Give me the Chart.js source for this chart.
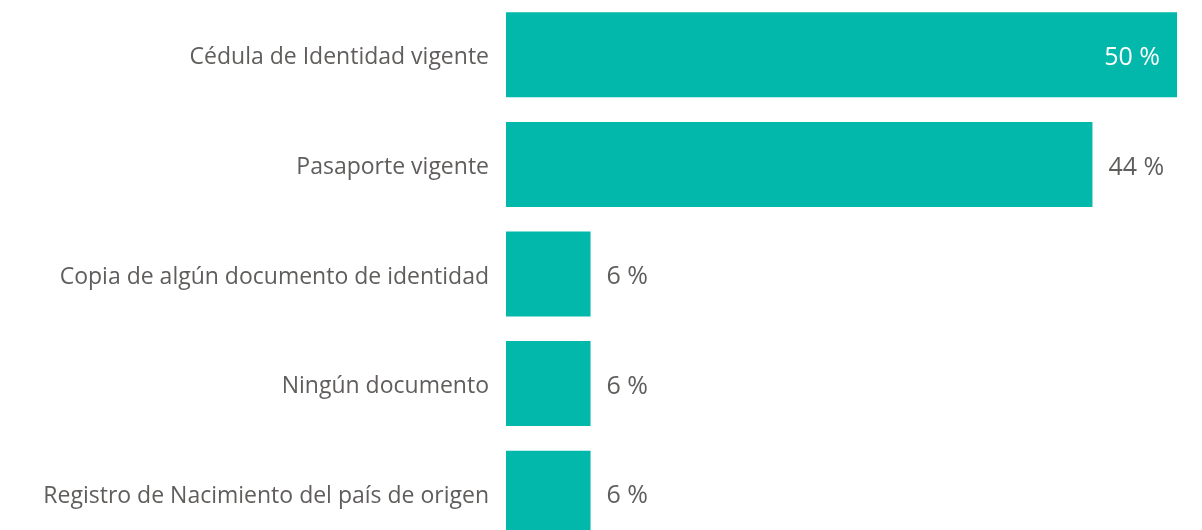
<!DOCTYPE html>
<html>
<head>
<meta charset="utf-8">
<script src="https://cdn.jsdelivr.net/npm/chart.js@4"></script>
<style>
  html, body { margin: 0; padding: 0; background: #fff; overflow: hidden; }
  canvas { display: block; }
</style>
</head>
<body>
<canvas id="docChart" width="1202" height="548"></canvas>
<script>
const categories = [
  'Cédula de Identidad vigente',
  'Pasaporte vigente',
  'Copia de algún documento de identidad',
  'Ningún documento',
  'Registro de Nacimiento del país de origen'
];
const shares = [50, 43.7, 6.3, 6.3, 6.3];

const TEAL = '#01B8AA';
const GREY = '#605E5C';
const FONT = "'Open Sans', 'Noto Sans', sans-serif";

// value labels: inside the bar end when it fits, otherwise just after it
const valueLabels = {
  id: 'valueLabels',
  afterDatasetsDraw(chart) {
    const ctx = chart.ctx;
    const meta = chart.getDatasetMeta(0);
    ctx.save();
    ctx.font = '25px ' + FONT;
    ctx.textBaseline = 'middle';
    meta.data.forEach((bar, i) => {
      const txt = Math.round(shares[i]) + ' %';
      if (shares[i] >= 48) {
        ctx.fillStyle = '#ffffff';
        ctx.textAlign = 'right';
        ctx.fillText(txt, bar.x - 17, bar.y + 3);
      } else {
        ctx.fillStyle = GREY;
        ctx.textAlign = 'left';
        ctx.fillText(txt, bar.x + 16, bar.y + 3);
      }
    });
    ctx.restore();
  }
};

new Chart(document.getElementById('docChart'), {
  type: 'bar',
  data: {
    labels: categories,
    datasets: [{
      data: shares,
      backgroundColor: TEAL,
      barPercentage: 1,
      categoryPercentage: 0.776
    }]
  },
  options: {
    indexAxis: 'y',
    responsive: false,
    animation: false,
    layout: { padding: { left: 0, right: 25, top: 0, bottom: 0 } },
    plugins: { legend: { display: false }, tooltip: { enabled: false } },
    scales: {
      x: { display: false, min: 0, max: 50 },
      y: {
        grid: { display: false, drawTicks: false },
        border: { display: false },
        ticks: {
          color: GREY,
          padding: 17,
          labelOffset: 3,
          font: { family: FONT, size: 23 }
        },
        afterFit(axis) {
          axis.width = 506;
          // keep the label half-heights from pushing the plot area in
          axis.paddingTop = 0;
          axis.paddingBottom = 0;
        }
      }
    }
  },
  plugins: [valueLabels]
});
</script>
</body>
</html>
